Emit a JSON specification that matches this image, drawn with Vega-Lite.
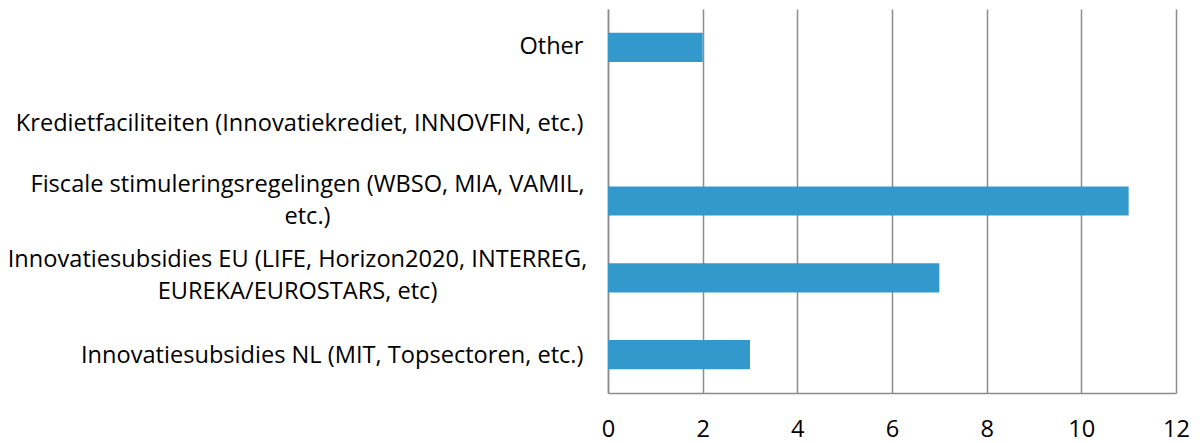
{
  "$schema": "https://vega.github.io/schema/vega-lite/v6.json",
  "width": 568,
  "height": 384,
  "autosize": {"type": "none"},
  "padding": {"left": 608, "top": 9, "right": 27, "bottom": 50},
  "background": "white",
  "config": {"view": {"stroke": null}, "font": "Open Sans"},
  "data": {
    "values": [
      {"category": "Other", "value": 2},
      {"category": "Kredietfaciliteiten (Innovatiekrediet, INNOVFIN, etc.)", "value": 0},
      {"category": "Fiscale stimuleringsregelingen (WBSO, MIA, VAMIL, etc.)", "value": 11},
      {"category": "Innovatiesubsidies EU (LIFE, Horizon2020, INTERREG, EUREKA/EUROSTARS, etc)", "value": 7},
      {"category": "Innovatiesubsidies NL (MIT, Topsectoren, etc.)", "value": 3}
    ]
  },
  "mark": {"type": "bar", "color": "#3399CC"},
  "encoding": {
    "y": {
      "field": "category",
      "type": "nominal",
      "sort": null,
      "title": null,
      "scale": {"paddingInner": 0.62, "paddingOuter": 0.31},
      "axis": {
        "ticks": false,
        "domainColor": "#8c8c8c",
        "domainWidth": 1.5,
        "labelFont": "Open Sans",
        "labelFontSize": 23.6,
        "labelColor": "#000000",
        "labelLimit": 1000,
        "labelLineHeight": 32,
        "labelExpr": "datum.value == 'Fiscale stimuleringsregelingen (WBSO, MIA, VAMIL, etc.)' ? ['Fiscale stimuleringsregelingen (WBSO, MIA, VAMIL,', 'etc.)'] : datum.value == 'Innovatiesubsidies EU (LIFE, Horizon2020, INTERREG, EUREKA/EUROSTARS, etc)' ? ['Innovatiesubsidies EU (LIFE, Horizon2020, INTERREG,', 'EUREKA/EUROSTARS, etc)'] : datum.value",
        "labelAlign": {
          "condition": {"test": "indexof(datum.value, 'Fiscale') == 0 || indexof(datum.value, 'Innovatiesubsidies EU') == 0", "value": "center"},
          "value": "right"
        },
        "labelPadding": {
          "condition": [
            {"test": "indexof(datum.value, 'Fiscale') == 0", "value": 301},
            {"test": "indexof(datum.value, 'Innovatiesubsidies EU') == 0", "value": 311}
          ],
          "value": 25
        },
        "labelOffset": {
          "condition": [
            {"test": "indexof(datum.value, 'Fiscale') == 0", "value": -16},
            {"test": "indexof(datum.value, 'Innovatiesubsidies EU') == 0", "value": -18},
            {"test": "indexof(datum.value, 'Innovatiesubsidies NL') == 0", "value": 1}
          ],
          "value": 0
        }
      }
    },
    "x": {
      "field": "value",
      "type": "quantitative",
      "title": null,
      "scale": {"domain": [0, 12], "nice": false},
      "axis": {
        "values": [0, 2, 4, 6, 8, 10, 12],
        "ticks": false,
        "grid": true,
        "gridColor": "#8c8c8c",
        "gridWidth": 1.5,
        "domainColor": "#8c8c8c",
        "domainWidth": 1.5,
        "labelFont": "Open Sans",
        "labelFontSize": 23.6,
        "labelColor": "#000000",
        "labelPadding": 24,
        "labelFlush": false
      }
    }
  }
}
